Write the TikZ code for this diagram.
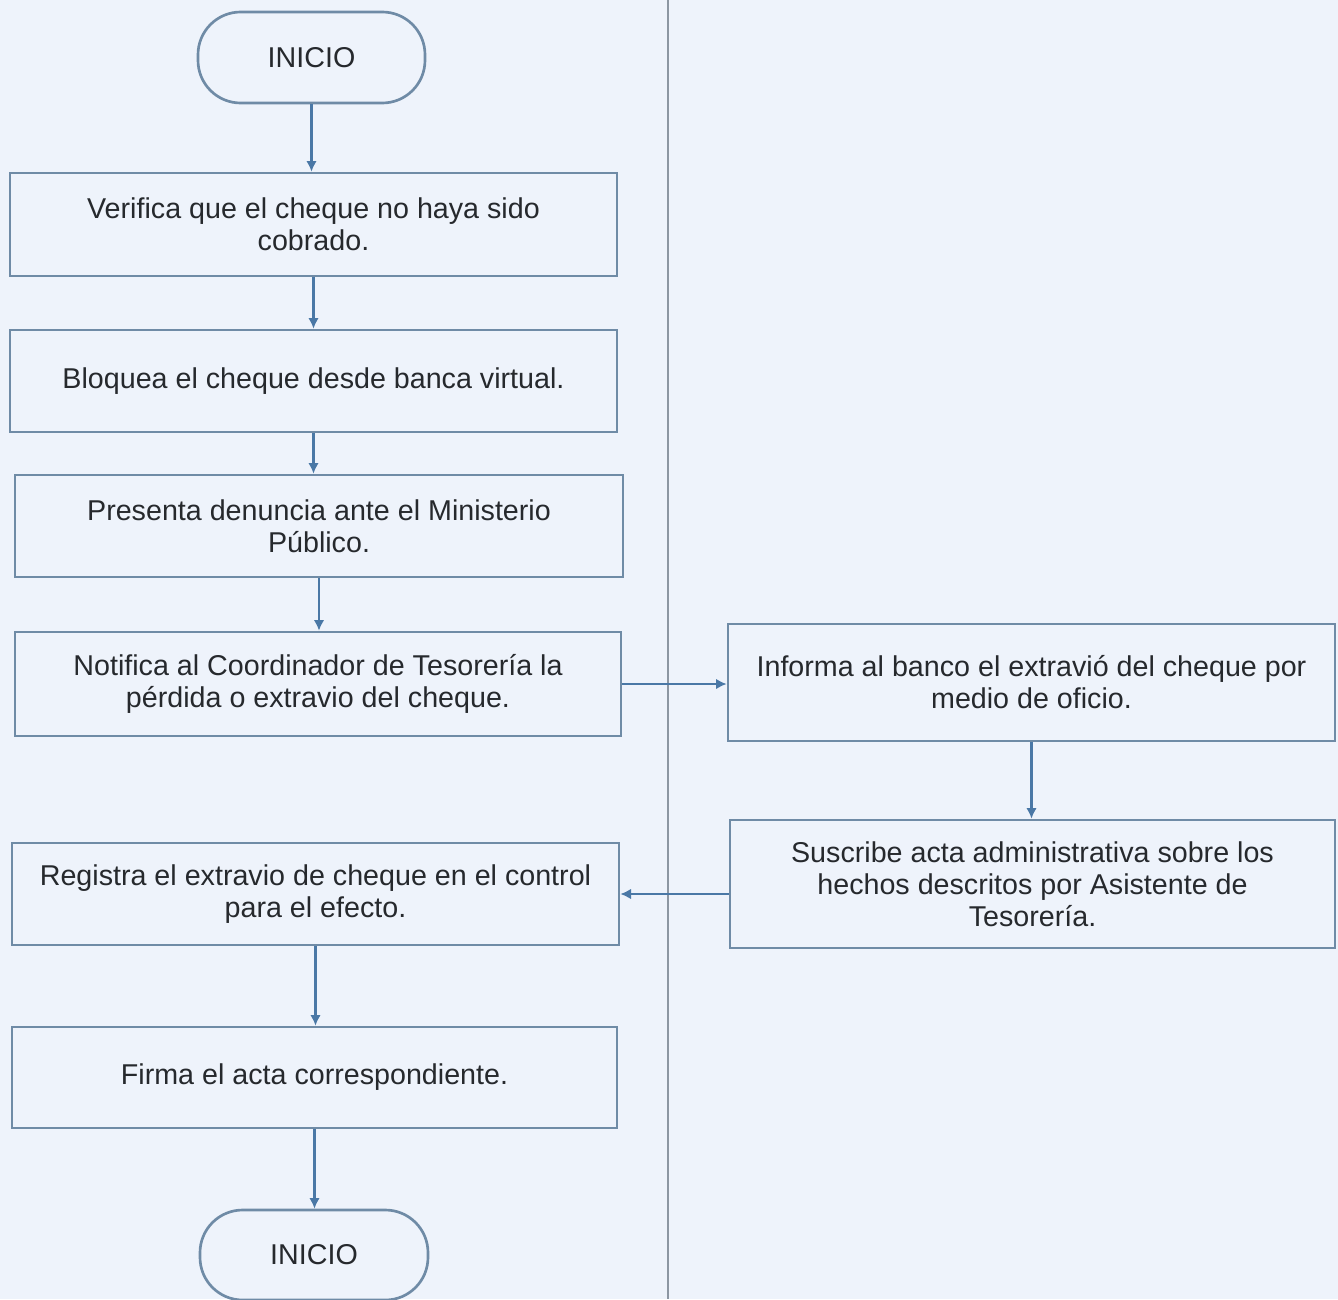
\documentclass[tikz,border=0pt]{standalone}
\usepackage{fontspec}
\setmainfont{Liberation Sans}
\usetikzlibrary{arrows.meta}
\definecolor{bgpaper}{HTML}{EEF3FB}
\definecolor{boxline}{HTML}{6F8BA6}
\definecolor{flowline}{HTML}{4A78A6}
\definecolor{laneline}{HTML}{8C96A2}
\definecolor{inktext}{HTML}{26292D}
\begin{document}
\begin{tikzpicture}[x=0.75pt,y=-0.75pt,
  stepbox/.style={draw=boxline, line width=2pt, fill=bgpaper, align=center,
    text=inktext, font=\fontsize{21.5}{24}\selectfont, inner sep=0pt},
  terminal/.style={stepbox, rounded corners=32pt},
  flow/.style={draw=flowline, line width=1.6pt, -{Latex[length=8pt,width=8pt]}}]
  % page and lane divider
  \fill[bgpaper] (0,0) rectangle (1338,1299);
  \useasboundingbox (0,0) rectangle (1338,1299);
  \coordinate (laneTop) at (668,0);
  \coordinate (laneBottom) at (668,1299);
  \draw[laneline, line width=2pt] (laneTop) -- (laneBottom);

  % left lane
  \node[terminal, minimum width={227*0.75pt}, minimum height={91*0.75pt}] (start) at (311.5,57.5) {INICIO};
  \node[stepbox, minimum width={607*0.75pt}, minimum height={103*0.75pt}] (b1) at (313.5,224.5)
    {Verifica que el cheque no haya sido\\cobrado.};
  \node[stepbox, minimum width={607*0.75pt}, minimum height={102*0.75pt}] (b2) at (313.5,381)
    {Bloquea el cheque desde banca virtual.};
  \node[stepbox, minimum width={608*0.75pt}, minimum height={102*0.75pt}] (b3) at (319,526)
    {Presenta denuncia ante el Ministerio\\Público.};
  \node[stepbox, minimum width={606*0.75pt}, minimum height={104*0.75pt}] (b4) at (318,684)
    {Notifica al Coordinador de Tesorería la\\pérdida o extravio del cheque.};
  \node[stepbox, minimum width={607*0.75pt}, minimum height={102*0.75pt}] (b7) at (315.5,894)
    {Registra el extravio de cheque en el control\\para el efecto.};
  \node[stepbox, minimum width={605*0.75pt}, minimum height={101*0.75pt}] (b8) at (314.5,1077.5)
    {Firma el acta correspondiente.};
  \node[terminal, minimum width={228*0.75pt}, minimum height={90*0.75pt}] (stop) at (314,1255) {INICIO};

  % right lane
  \node[stepbox, minimum width={607*0.75pt}, minimum height={117*0.75pt}] (b5) at (1031.5,682.5)
    {Informa al banco el extravió del cheque por\\medio de oficio.};
  \node[stepbox, minimum width={605*0.75pt}, minimum height={128*0.75pt}] (b6) at (1032.5,884)
    {Suscribe acta administrativa sobre los\\hechos descritos por Asistente de\\Tesorería.};

  % connectors
  \draw[flow] (start.south) -- (start.south |- b1.north);
  \draw[flow] (b1.south) -- (b1.south |- b2.north);
  \draw[flow] (b2.south) -- (b2.south |- b3.north);
  \draw[flow] (b3.south) -- (b3.south |- b4.north);
  \draw[flow] (b4.east) -- (b4.east -| b5.west);
  \draw[flow] (b5.south) -- (b5.south |- b6.north);
  \draw[flow] (b6.west |- b7.east) -- (b7.east);
  \draw[flow] (b7.south) -- (b7.south |- b8.north);
  \draw[flow] (b8.south) -- (b8.south |- stop.north);
\end{tikzpicture}
\end{document}
